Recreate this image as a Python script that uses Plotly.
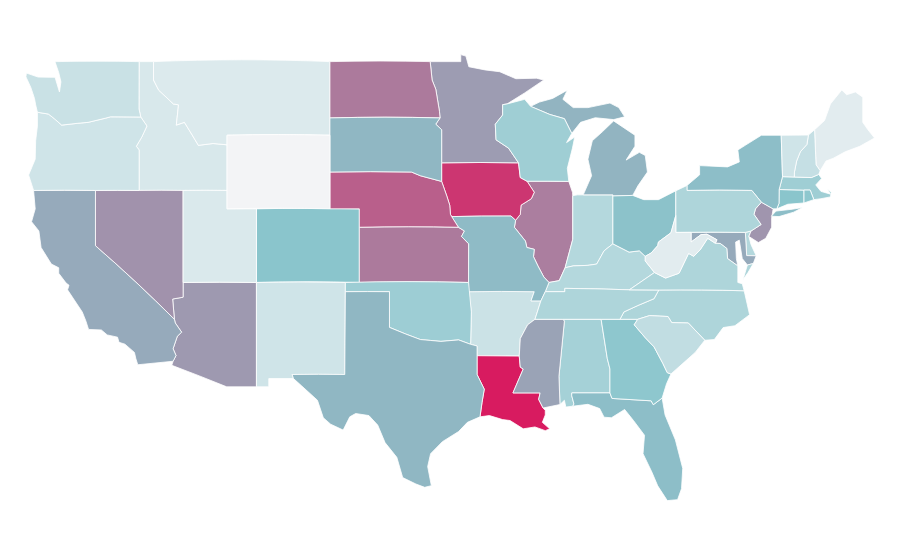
import json, math
from urllib.parse import quote
import plotly.graph_objects as go

state_names = ["Alabama","Arizona","Arkansas","California","Colorado","Connecticut","Delaware","District of Columbia","Florida","Georgia","Idaho","Illinois","Indiana","Iowa","Kansas","Kentucky","Louisiana","Maine","Maryland","Massachusetts","Michigan","Minnesota","Mississippi","Missouri","Montana","Nebraska","Nevada","New Hampshire","New Jersey","New Mexico","New York","North Carolina","North Dakota","Ohio","Oklahoma","Oregon","Pennsylvania","Rhode Island","South Carolina","South Dakota","Tennessee","Texas","Utah","Vermont","Virginia","Washington","West Virginia","Wisconsin","Wyoming"]
values = [37,63,19,58,50,50,30,58,52,48,13,71,30,92,72,30,100,8,58,40,55,62,60,53,11,80,65,22,64,17,52,33,72,51,41,17,33,48,24,54,33,54,12,17,33,20,8,40,0]
scale_stops = [0, 0.5, 1]
scale_colors = ["#f3f4f6", "#8ac5cc", "#d81b60"]

# Simplified state outlines in longitude/latitude; the geo projection places them.
boundaries = {
"Washington":[[(-122.76,49),(-117.03,49),(-117.04,46.43),(-116.92,45.99),(-118.98,46),(-119.3,45.93),(-120.5,45.7),(-121.2,45.65),(-122.3,45.55),(-122.8,45.9),(-123.2,46.15),(-123.95,46.25),(-124.07,46.65),(-124.15,47),(-124.4,47.6),(-124.73,48.17),(-124.7,48.38),(-123.9,48.16),(-123.1,48.15),(-122.75,48.15),(-122.45,47.35),(-122.35,47.9),(-122.5,48.4)]],
"Oregon":[[(-123.95,46.25),(-123.2,46.15),(-122.8,45.9),(-122.3,45.55),(-121.2,45.65),(-120.5,45.7),(-119.3,45.93),(-118.98,46),(-116.92,45.99),(-116.5,45.5),(-116.85,44.9),(-117.22,44.4),(-117.03,44.2),(-117.03,42),(-120,42),(-124.21,42),(-124.55,42.84),(-124.1,43.7),(-124.07,44.7),(-123.95,45.5)]],
"California":[[(-124.21,42),(-120,42),(-120,39),(-114.63,35),(-114.57,34.8),(-114.14,34.3),(-114.43,34.08),(-114.72,33.4),(-114.52,33.03),(-114.72,32.72),(-117.12,32.53),(-117.25,32.85),(-117.35,33.2),(-118,33.65),(-118.4,33.75),(-118.5,34.03),(-119.2,34.15),(-119.6,34.42),(-120.47,34.45),(-120.65,34.9),(-120.9,35.4),(-121.9,36.6),(-121.8,36.85),(-122,36.97),(-122.5,37.5),(-122.5,37.8),(-123,38),(-123.7,38.9),(-123.85,39.8),(-124.35,40.3),(-124.1,41)]],
"Nevada":[[(-120,42),(-117.03,42),(-114.04,42),(-114.04,36.2),(-114.75,36.1),(-114.63,35),(-120,39)]],
"Idaho":[[(-117.03,49),(-116.05,49),(-116.05,48),(-115.7,47.45),(-114.7,46.7),(-114.35,46.65),(-114.5,45.55),(-113.95,45.7),(-113.45,45.05),(-113,44.45),(-112,44.55),(-111.05,44.48),(-111.05,42),(-114.04,42),(-117.03,42),(-117.03,44.2),(-117.22,44.4),(-116.85,44.9),(-116.5,45.5),(-116.92,45.99),(-117.04,46.43)]],
"Montana":[[(-116.05,49),(-104.05,49),(-104.05,45),(-111.05,45),(-111.05,44.48),(-112,44.55),(-113,44.45),(-113.45,45.05),(-113.95,45.7),(-114.5,45.55),(-114.35,46.65),(-114.7,46.7),(-115.7,47.45),(-116.05,48)]],
"Wyoming":[[(-111.05,45),(-104.05,45),(-104.05,41),(-111.05,41)]],
"Utah":[[(-114.04,42),(-111.05,42),(-111.05,41),(-109.05,41),(-109.05,37),(-114.04,37)]],
"Colorado":[[(-109.05,41),(-102.05,41),(-102.05,37),(-109.05,37)]],
"Arizona":[[(-114.04,37),(-109.05,37),(-109.05,31.33),(-111.07,31.33),(-114.81,32.5),(-114.72,32.72),(-114.52,33.03),(-114.72,33.4),(-114.43,34.08),(-114.14,34.3),(-114.57,34.8),(-114.63,35),(-114.75,36.1),(-114.04,36.2)]],
"New Mexico":[[(-109.05,37),(-103,37),(-103.04,32),(-106.62,32),(-106.53,31.78),(-108.21,31.78),(-108.21,31.33),(-109.05,31.33)]],
"North Dakota":[[(-104.05,49),(-97.23,49),(-97.1,48),(-96.85,47.5),(-96.6,46.3),(-96.56,45.94),(-104.05,45.94)]],
"South Dakota":[[(-104.05,45.94),(-96.56,45.94),(-96.85,45.6),(-96.45,45.3),(-96.45,43.5),(-96.45,42.49),(-97.9,42.8),(-98.5,43),(-104.05,43)]],
"Nebraska":[[(-104.05,43),(-98.5,43),(-97.9,42.8),(-96.45,42.49),(-96.1,41.7),(-95.9,41.2),(-95.85,40.7),(-95.77,40.58),(-95.31,40),(-102.05,40),(-102.05,41),(-104.05,41)]],
"Kansas":[[(-102.05,40),(-95.31,40),(-94.9,39.8),(-95.1,39.5),(-94.61,39.1),(-94.62,37),(-102.05,37)]],
"Oklahoma":[[(-103,37),(-94.62,37),(-94.43,35.4),(-94.48,33.64),(-95.3,33.88),(-96.5,33.8),(-97.2,33.85),(-97.9,33.9),(-98.9,34.2),(-100,34.56),(-100,36.5),(-103,36.5)]],
"Texas":[[(-106.62,32),(-103.04,32),(-103,36.5),(-100,36.5),(-100,34.56),(-98.9,34.2),(-97.9,33.9),(-97.2,33.85),(-96.5,33.8),(-95.3,33.88),(-94.48,33.64),(-94.04,33.55),(-94.04,32),(-93.55,31.2),(-93.7,30.5),(-93.84,29.7),(-94.7,29.4),(-95.3,28.9),(-96.4,28.35),(-97.2,27.7),(-97.4,27),(-97.15,25.96),(-97.6,25.87),(-98.2,26.05),(-99.1,26.4),(-99.5,27.5),(-100.3,28.3),(-100.8,29.25),(-101.4,29.77),(-102.3,29.88),(-102.7,29.7),(-103.15,28.98),(-104,29.3),(-104.5,29.65),(-104.9,30.6),(-106,31.4),(-106.53,31.78)]],
"Minnesota":[[(-97.23,49),(-95.15,49),(-95.15,49.38),(-94.8,49.3),(-94.6,48.72),(-93.5,48.55),(-92.5,48.45),(-91.4,48.07),(-90,48.1),(-89.5,48),(-90.8,47.3),(-92,46.7),(-92.3,46.66),(-92.3,46.1),(-92.8,45.6),(-92.75,44.75),(-91.9,44.3),(-91.22,43.5),(-96.45,43.5),(-96.45,45.3),(-96.85,45.6),(-96.56,45.94),(-96.6,46.3),(-96.85,47.5),(-97.1,48)]],
"Iowa":[[(-96.45,43.5),(-91.22,43.5),(-91.1,42.7),(-90.64,42.5),(-90.15,41.9),(-90.35,41.55),(-91.05,41.2),(-91.1,40.7),(-91.42,40.38),(-91.73,40.61),(-95.77,40.58),(-95.85,40.7),(-95.9,41.2),(-96.1,41.7),(-96.45,42.49)]],
"Missouri":[[(-95.77,40.58),(-91.73,40.61),(-91.42,40.38),(-91.5,40),(-91.4,39.9),(-90.75,39.25),(-90.65,38.9),(-90.15,38.8),(-90.2,38.4),(-89.9,37.9),(-89.5,37.3),(-89.15,37),(-89.4,36.5),(-89.7,36),(-90.37,36),(-90.15,36.5),(-94.62,36.5),(-94.62,37),(-94.61,39.1),(-95.1,39.5),(-94.9,39.8),(-95.31,40)]],
"Arkansas":[[(-94.62,36.5),(-90.15,36.5),(-90.37,36),(-89.7,36),(-90.1,35),(-90.6,34.7),(-91.1,33.95),(-91.17,33),(-94.04,33.02),(-94.04,33.55),(-94.48,33.64),(-94.43,35.4)]],
"Louisiana":[[(-94.04,33.02),(-91.17,33),(-91.1,32.4),(-90.9,32.3),(-91.6,31),(-89.75,31),(-89.85,30.65),(-89.55,30.18),(-89.4,30.05),(-89.4,29.8),(-89.6,29.4),(-89.1,29.05),(-89.4,28.95),(-90.1,29.15),(-90.9,29.05),(-91.8,29.5),(-92.3,29.55),(-93.2,29.77),(-93.84,29.7),(-93.7,30.5),(-93.55,31.2),(-94.04,32)]],
"Mississippi":[[(-90.1,35),(-88.2,35),(-88.1,34.9),(-88.47,31.9),(-88.4,30.37),(-89.55,30.18),(-89.85,30.65),(-89.75,31),(-91.6,31),(-90.9,32.3),(-91.1,32.4),(-91.17,33),(-91.1,33.95),(-90.6,34.7)]],
"Alabama":[[(-88.2,35),(-85.6,35),(-85.18,32.87),(-85,32.3),(-85,31),(-87.6,31),(-87.6,30.85),(-87.45,30.4),(-87.52,30.28),(-88,30.23),(-88.1,30.6),(-88.4,30.37),(-88.47,31.9),(-88.1,34.9)]],
"Georgia":[[(-85.6,35),(-83.11,35),(-83.35,34.7),(-82.6,34),(-82,33.5),(-81.4,32.6),(-81.1,32.1),(-80.85,32.03),(-81.15,31.5),(-81.45,30.72),(-82.05,30.36),(-82.2,30.57),(-84.86,30.7),(-85,31),(-85,32.3),(-85.18,32.87)]],
"Florida":[[(-87.6,31),(-85,31),(-84.86,30.7),(-82.2,30.57),(-82.05,30.36),(-81.45,30.72),(-81.25,29.8),(-80.55,28.45),(-80.05,26.9),(-80.13,25.8),(-80.4,25.2),(-81.1,25.15),(-81.75,25.95),(-82.15,26.7),(-82.75,27.7),(-82.65,28.7),(-83.4,29.5),(-84,30.1),(-84.9,29.65),(-85.4,29.68),(-85.7,30.15),(-86.5,30.38),(-87.52,30.28),(-87.45,30.4),(-87.6,30.85)]],
"South Carolina":[[(-83.11,35),(-82.3,35.2),(-81.05,35.15),(-80.8,34.82),(-79.67,34.8),(-78.55,33.86),(-79.2,33.2),(-79.9,32.7),(-80.85,32.03),(-81.1,32.1),(-81.4,32.6),(-82,33.5),(-82.6,34),(-83.35,34.7)]],
"North Carolina":[[(-81.68,36.59),(-75.87,36.55),(-75.5,35.25),(-76.5,34.65),(-77.3,34.55),(-77.9,33.9),(-78.55,33.86),(-79.67,34.8),(-80.8,34.82),(-81.05,35.15),(-82.3,35.2),(-83.11,35),(-84.32,35),(-84.05,35.4),(-83.1,35.75),(-82,36.12)]],
"Tennessee":[[(-90.1,35),(-88.2,35),(-85.6,35),(-84.32,35),(-84.05,35.4),(-83.1,35.75),(-82,36.12),(-81.68,36.59),(-83.68,36.6),(-88.07,36.68),(-88.07,36.5),(-89.4,36.5),(-89.7,36)]],
"Kentucky":[[(-89.4,36.5),(-88.07,36.5),(-88.07,36.68),(-83.68,36.6),(-81.97,37.54),(-82.6,38.17),(-82.6,38.42),(-83,38.72),(-83.7,38.65),(-84.8,39.1),(-85.4,38.72),(-85.9,38),(-86.5,37.93),(-87.5,37.9),(-88.05,37.8),(-88.45,37.1),(-89.15,37)]],
"Virginia":[[(-83.68,36.6),(-81.68,36.59),(-75.87,36.55),(-76,36.93),(-76.3,37),(-76.3,37.9),(-77,38.3),(-77.05,38.85),(-77.5,39.12),(-77.83,39.13),(-78.35,39.4),(-78.87,38.77),(-79.3,38.42),(-79.65,38.58),(-80.3,37.5),(-81.22,37.24),(-81.97,37.54)],[(-75.95,37.15),(-75.6,37.55),(-75.25,38.03),(-75.65,37.95)]],
"West Virginia":[[(-81.97,37.54),(-81.22,37.24),(-80.3,37.5),(-79.65,38.58),(-79.3,38.42),(-78.87,38.77),(-78.35,39.4),(-77.83,39.13),(-77.72,39.32),(-78.4,39.62),(-78.8,39.6),(-79.48,39.2),(-79.48,39.72),(-80.52,39.72),(-80.52,40.64),(-80.85,39.7),(-81.7,39.2),(-81.75,39),(-82.2,38.6),(-82.6,38.42),(-82.6,38.17)]],
"Ohio":[[(-84.8,41.7),(-83.45,41.73),(-82.7,41.5),(-81.7,41.5),(-80.52,41.98),(-80.52,40.64),(-80.85,39.7),(-81.7,39.2),(-81.75,39),(-82.2,38.6),(-82.6,38.42),(-83,38.72),(-83.7,38.65),(-84.8,39.1)]],
"Indiana":[[(-87.53,41.72),(-87.2,41.76),(-86.82,41.76),(-84.8,41.76),(-84.8,41.7),(-84.8,39.1),(-85.4,38.72),(-85.9,38),(-86.5,37.93),(-87.5,37.9),(-88.05,37.8),(-87.53,39.35)]],
"Illinois":[[(-90.64,42.5),(-87.8,42.49),(-87.55,41.9),(-87.53,41.72),(-87.53,39.35),(-88.05,37.8),(-88.45,37.1),(-89.15,37),(-89.5,37.3),(-89.9,37.9),(-90.2,38.4),(-90.15,38.8),(-90.65,38.9),(-90.75,39.25),(-91.4,39.9),(-91.5,40),(-91.42,40.38),(-91.1,40.7),(-91.05,41.2),(-90.35,41.55),(-90.15,41.9)]],
"Wisconsin":[[(-92.3,46.66),(-92,46.7),(-90.8,46.95),(-90.4,46.57),(-89.1,46.13),(-88.1,45.9),(-87.6,45.1),(-87.95,44.6),(-87.4,44.9),(-87.55,44.3),(-87.9,43.2),(-87.8,42.49),(-90.64,42.5),(-91.1,42.7),(-91.22,43.5),(-91.9,44.3),(-92.75,44.75),(-92.8,45.6),(-92.3,46.1)]],
"Michigan":[[(-90.4,46.57),(-89.1,46.13),(-88.1,45.9),(-87.6,45.1),(-87,45.7),(-86,45.95),(-84.75,45.85),(-84,46),(-84.4,46.5),(-85,46.75),(-86.5,46.5),(-87.5,46.5),(-88.2,46.95),(-87.9,47.45),(-88.9,47),(-89.8,46.8)],[(-86.82,41.76),(-84.8,41.76),(-84.8,41.7),(-83.45,41.73),(-83.1,42.25),(-82.45,43),(-82.6,43.9),(-83,44.07),(-83.9,43.65),(-83.3,44.4),(-83.3,45),(-84.75,45.78),(-85.5,45.2),(-86.2,44.7),(-86.5,43.7),(-86.25,42.8)]],
"Pennsylvania":[[(-80.52,41.98),(-80.52,40.64),(-80.52,39.72),(-75.79,39.72),(-75.4,39.8),(-75.1,39.95),(-74.72,40.15),(-75.2,40.7),(-75.1,41),(-74.7,41.36),(-75.35,42),(-79.76,42),(-79.76,42.27)]],
"New York":[[(-79.76,42.27),(-79.76,42),(-75.35,42),(-74.7,41.36),(-73.9,41),(-73.65,41),(-73.5,41.3),(-73.49,42.05),(-73.26,42.75),(-73.35,45),(-74.7,45),(-75.8,44.45),(-76.3,44.2),(-76.2,43.55),(-77,43.28),(-78.9,43.35),(-78.9,42.85)],[(-74.02,40.6),(-73.7,40.88),(-72.6,40.98),(-71.9,41.07),(-72.5,40.82),(-73.5,40.58)]],
"New Jersey":[[(-74.7,41.36),(-75.1,41),(-75.2,40.7),(-74.72,40.15),(-75.1,39.95),(-75.4,39.8),(-75.55,39.5),(-74.9,39.17),(-74.4,39.4),(-74,40),(-74,40.5),(-73.9,41)]],
"Delaware":[[(-75.79,39.72),(-75.4,39.8),(-75.55,39.5),(-75.4,39.05),(-75.05,38.45),(-75.7,38.46)]],
"Maryland":[[(-79.48,39.72),(-75.79,39.72),(-75.7,38.46),(-75.05,38.45),(-75.25,38.03),(-75.65,37.95),(-76,38.3),(-76.2,39.3),(-76.45,39.2),(-76.4,38.3),(-76.3,37.9),(-77,38.3),(-77.05,38.85),(-77.5,39.12),(-77.83,39.13),(-77.72,39.32),(-78.4,39.62),(-78.8,39.6),(-79.48,39.2)]],
"District of Columbia":[[(-77.12,38.93),(-77.04,39),(-76.91,38.89),(-77.04,38.79)]],
"Connecticut":[[(-73.49,42.05),(-71.8,42.02),(-71.8,41.32),(-72.9,41.25),(-73.65,41),(-73.5,41.3)]],
"Rhode Island":[[(-71.8,42.02),(-71.38,42.02),(-71.13,41.5),(-71.8,41.32)]],
"Massachusetts":[[(-73.26,42.75),(-71.3,42.7),(-70.8,42.87),(-70.6,42.65),(-71,42.3),(-70.65,41.95),(-70,41.8),(-70.2,42.07),(-69.95,41.9),(-70,41.65),(-70.65,41.55),(-71.13,41.5),(-71.38,42.02),(-71.8,42.02),(-73.49,42.05)]],
"Vermont":[[(-73.35,45),(-71.5,45.01),(-71.6,44.5),(-72.05,44.1),(-72.3,43.6),(-72.45,43),(-72.46,42.73),(-73.26,42.75)]],
"New Hampshire":[[(-71.5,45.01),(-71.08,45.3),(-70.98,43.4),(-70.7,43.07),(-70.8,42.87),(-71.3,42.7),(-72.46,42.73),(-72.45,43),(-72.3,43.6),(-72.05,44.1),(-71.6,44.5)]],
"Maine":[[(-71.08,45.3),(-70.4,45.8),(-70,46.7),(-69.23,47.46),(-68.9,47.2),(-68.3,47.35),(-67.8,47.07),(-67.8,45.7),(-67.45,45.3),(-67,44.85),(-68,44.4),(-69,44.1),(-69.8,43.75),(-70.3,43.6),(-70.7,43.07),(-70.98,43.4)]],
}

# The reference is an equirectangular map with its standard parallel near 37 degrees.
# Plotly's equirectangular has it at the equator, so longitudes are compressed to match.
LON_FACTOR = math.cos(math.radians(37))

def clockwise(ring):
    pts = [[lon * LON_FACTOR, lat] for lon, lat in ring]
    area = sum(a[0] * b[1] - b[0] * a[1] for a, b in zip(pts, pts[1:] + pts[:1]))
    if area > 0:
        pts = pts[::-1]
    return pts + [pts[0]]

geojson = {"type": "FeatureCollection", "features": [
    {"type": "Feature", "id": name, "properties": {},
     "geometry": {"type": "MultiPolygon", "coordinates": [[clockwise(r)] for r in rings]}}
    for name, rings in boundaries.items()
]}

# The geo subplot always asks for a base map file. All base layers are off, so hand it
# an empty topology inline; the file name plotly appends lands in the URL fragment.
empty = {"type": "GeometryCollection", "geometries": []}
topology = {"type": "Topology", "arcs": [], "objects": {k: empty for k in
            ["coastlines", "land", "ocean", "lakes", "rivers", "countries", "subunits"]}}
topojson_url = "data:application/json," + quote(json.dumps(topology)) + "#"

fig = go.Figure(go.Choropleth(
    geojson=geojson, locations=state_names, z=values,
    locationmode="geojson-id",
    colorscale=list(map(list, zip(scale_stops, scale_colors))), zmin=0, zmax=100, showscale=False,
    marker=dict(line=dict(color="white", width=0.8)),
))
fig.update_geos(
    projection_type="equirectangular", visible=False, showframe=False, showcoastlines=False,
    showland=False, showlakes=False, showsubunits=False, showcountries=False, showocean=False,
    showrivers=False, bgcolor="white",
    lonaxis_range=[-100.59, -51.69], lataxis_range=[22.6, 50.8],
)
fig.update_layout(width=900, height=560, margin=dict(l=0, r=0, t=0, b=0), paper_bgcolor="white")
fig.write_html("out.html", config={"topojsonURL": topojson_url})
